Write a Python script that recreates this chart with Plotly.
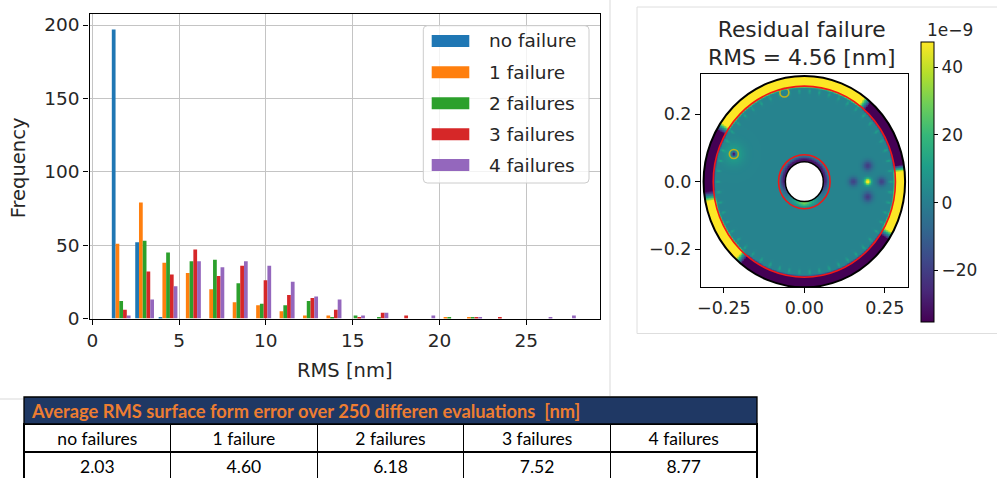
import numpy as np
import plotly.graph_objects as go

# ---------------- histogram data (counts per bin) ----------------
series_names = ["no failure", "1 failure", "2 failures", "3 failures", "4 failures"]
series_colors = ["#1f77b4", "#ff7f0e", "#2ca02c", "#d62728", "#9467bd"]
bin_lo, bin_hi, n_bins = 0.99, 27.99, 20
counts_0 = [197, 52, 1, 0, 0, 0, 0, 0, 0, 0, 0, 0, 0, 0, 0, 0, 0, 0, 0, 0]
counts_1 = [51, 79, 38, 31, 20, 11, 9, 5, 2, 2, 0, 0, 0, 0, 1, 1, 0, 0, 0, 0]
counts_2 = [12, 53, 45, 39, 40, 24, 10, 9, 12, 1, 2, 1, 0, 0, 1, 1, 0, 0, 0, 0]
counts_3 = [6, 32, 30, 47, 29, 36, 26, 16, 14, 6, 1, 4, 2, 0, 0, 1, 1, 0, 0, 0]
counts_4 = [2, 13, 22, 39, 35, 39, 36, 25, 15, 13, 2, 4, 0, 2, 0, 1, 0, 0, 1, 2]
hist_xticks = [0, 5, 10, 15, 20, 25]
hist_yticks = [0, 50, 100, 150, 200]

# ---------------- table data ----------------
table_title = "Average RMS surface form error over 250 differen evaluations  [nm]"
table_headers = ["no failures", "1 failure", "2 failures", "3 failures", "4 failures"]
table_values = [2.03, 4.60, 6.18, 7.52, 8.77]

# ---------------- residual map features ----------------
heat_title = ["Residual failure", "RMS = 4.56 [nm]"]
R_outer = 0.313
R_hole = 0.059
red_radii = [0.283, 0.080]
interior_level = 2.0
rim_angle_deg = [0, 5, 10, 48, 54, 145, 151, 185, 192, 226, 232, 326, 332, 360]
rim_value = [60, 60, -45, -45, 60, 60, -45, -45, 60, 60, -45, -45, 60, 60]
hole_angle_deg = [0, 90, 180, 225, 270, 315, 360]
hole_value = [-28, -32, -28, 0, 30, 0, -28]
spot_x = [0.197, 0.197, 0.197, 0.152, 0.240, -0.219, -0.219]
spot_y = [0.0, 0.047, -0.045, 0.0, 0.0, 0.082, 0.082]
spot_amp = [50, -22, -22, -20, -20, 10, -42]
spot_sigma = [0.007, 0.011, 0.011, 0.010, 0.010, 0.022, 0.005]
edge_dot_count = 54
edge_dot_radius = 0.268
edge_dot_amp = 9
probe_x = [-0.219, -0.062]
probe_y = [0.082, 0.264]
z_min, z_max = -35.2, 47.4
cbar_ticks = [-20, 0, 20, 40]

# ---------------- build histogram bars ----------------
edges = np.linspace(bin_lo, bin_hi, n_bins + 1)
centers = (edges[:-1] + edges[1:]) / 2
all_counts = [counts_0, counts_1, counts_2, counts_3, counts_4]

W, H = 997, 479
def px(x):
    return x / W
def py(y):
    return 1 - y / H

FONT = "DejaVu Sans"
TXT = "#262626"

fig = go.Figure()
for name, col, cnt in zip(series_names, series_colors, all_counts):
    fig.add_trace(go.Bar(x=centers, y=cnt, name=name, marker=dict(color=col, line=dict(width=0)),
                         xaxis="x", yaxis="y", showlegend=False, hoverinfo="skip"))

# ---------------- build residual field ----------------
n = 321
gx = np.linspace(-0.322, 0.322, n)
gy = np.linspace(-0.322, 0.322, n)
X, Y = np.meshgrid(gx, gy)
R = np.hypot(X, Y)
TH = np.degrees(np.arctan2(Y, X)) % 360
Z = np.full_like(X, interior_level)
rim = np.interp(TH, rim_angle_deg, rim_value)
w = np.clip((R - 0.276) / 0.010, 0, 1)
Z = Z * (1 - w) + rim * w
hole = np.interp(TH, hole_angle_deg, hole_value)
wh = np.clip((0.078 - R) / 0.012, 0, 1)
Z = Z * (1 - wh) + hole * wh
dots = edge_dot_amp * np.clip(np.cos(np.radians(TH) * edge_dot_count), 0, 1) ** 3 * \
    np.exp(-((R - edge_dot_radius) ** 2) / (2 * 0.005 ** 2))
Z = Z + dots
for sx, sy, a, s in zip(spot_x, spot_y, spot_amp, spot_sigma):
    Z = Z + a * np.exp(-((X - sx) ** 2 + (Y - sy) ** 2) / (2 * s ** 2))
Z[(R > R_outer) | (R < R_hole)] = np.nan
Z = np.round(Z, 2)

fig.add_trace(go.Heatmap(
    x=gx, y=gy, z=Z, xaxis="x2", yaxis="y2", colorscale="Viridis", zmin=z_min, zmax=z_max,
    hoverinfo="skip",
    colorbar=dict(x=px(921), xanchor="left", y=py(182), yanchor="middle", xpad=0, ypad=0,
                  len=280 / H, lenmode="fraction", thickness=13, thicknessmode="pixels",
                  outlinecolor="black", outlinewidth=1,
                  tickvals=cbar_ticks, ticktext=[str(t).replace("-", "\u2212") for t in cbar_ticks],
                  ticks="outside", ticklen=4, tickcolor="black",
                  tickfont=dict(family=FONT, size=17, color=TXT)),
))
fig.add_trace(go.Scatter(x=probe_x, y=probe_y, mode="markers", xaxis="x2", yaxis="y2",
                         marker=dict(symbol="circle-open", size=9, color="#bfb21c", line=dict(width=1.6)),
                         showlegend=False, hoverinfo="skip"))

# ---------------- table ----------------
fig.add_trace(go.Table(
    domain=dict(x=[px(24), px(757)], y=[0, py(424)]),
    columnwidth=[1] * len(table_headers),
    header=dict(values=table_headers, fill_color="white", line=dict(color="black", width=1.3),
                font=dict(family="Lato", size=17.5, color="black"), align="center", height=28),
    cells=dict(values=[[f"{v:.2f}"] for v in table_values], fill_color="white",
               line=dict(color="black", width=1.3),
               font=dict(family="Lato", size=17.5, color="black"), align="center", height=27),
))

axis_common = dict(showline=True, mirror=True, linecolor="black", ticks="outside", tickcolor="black",
                   zeroline=False, automargin=False, tickfont=dict(family=FONT, size=18.5, color=TXT))

shapes = []
annotations = []
# heatmap circles
shapes.append(dict(type="circle", xref="x2", yref="y2", x0=-R_outer, x1=R_outer, y0=-R_outer, y1=R_outer,
                   line=dict(color="black", width=2)))
shapes.append(dict(type="circle", xref="x2", yref="y2", x0=-R_hole, x1=R_hole, y0=-R_hole, y1=R_hole,
                   line=dict(color="black", width=1.5)))
for r in red_radii:
    shapes.append(dict(type="circle", xref="x2", yref="y2", x0=-r, x1=r, y0=-r, y1=r,
                       line=dict(color="#f01818", width=1.6)))

# manual legend
lx0, lx1, ly0, ly1, rr = 423.3, 589, 25.7, 183, 4
path = (f"M{px(lx0 + rr)},{py(ly0)} L{px(lx1 - rr)},{py(ly0)} Q{px(lx1)},{py(ly0)} {px(lx1)},{py(ly0 + rr)} "
        f"L{px(lx1)},{py(ly1 - rr)} Q{px(lx1)},{py(ly1)} {px(lx1 - rr)},{py(ly1)} "
        f"L{px(lx0 + rr)},{py(ly1)} Q{px(lx0)},{py(ly1)} {px(lx0)},{py(ly1 - rr)} "
        f"L{px(lx0)},{py(ly0 + rr)} Q{px(lx0)},{py(ly0)} {px(lx0 + rr)},{py(ly0)} Z")
shapes.append(dict(type="path", xref="paper", yref="paper", path=path, layer="above",
                   fillcolor="rgba(255,255,255,0.8)", line=dict(color="#cccccc", width=1)))
rows = [41, 72.3, 103.3, 134.3, 165]
for name, col, yc in zip(series_names, series_colors, rows):
    shapes.append(dict(type="rect", xref="paper", yref="paper", layer="above",
                       x0=px(431.7), x1=px(469.3), y0=py(yc - 6), y1=py(yc + 6),
                       fillcolor=col, line=dict(width=0)))
    annotations.append(dict(text=name, x=px(486.7), y=py(yc), xref="paper", yref="paper",
                            xanchor="left", yanchor="middle", showarrow=False,
                            font=dict(family=FONT, size=18.5, color=TXT)))

# axis titles
annotations.append(dict(text="Frequency", x=px(18.3), y=py(168), xref="paper", yref="paper",
                        textangle=-90, showarrow=False, xanchor="center", yanchor="middle",
                        font=dict(family=FONT, size=19.5, color=TXT)))
annotations.append(dict(text="RMS [nm]", x=px(345), y=py(370), xref="paper", yref="paper",
                        showarrow=False, xanchor="center", yanchor="middle",
                        font=dict(family=FONT, size=19.5, color=TXT)))
# heatmap title (two lines)
annotations.append(dict(text="<br>".join(heat_title), x=px(801), y=py(43.4), xref="paper", yref="paper",
                        showarrow=False, xanchor="center", yanchor="middle",
                        font=dict(family=FONT, size=21.8, color=TXT)))
annotations.append(dict(text="1e\u22129", x=px(949.5), y=py(30), xref="paper", yref="paper", showarrow=False,
                        xanchor="center", yanchor="middle", font=dict(family=FONT, size=17, color=TXT)))

# table title bar
shapes.append(dict(type="rect", xref="paper", yref="paper", x0=px(24), x1=px(757), y0=py(397), y1=py(424),
                   fillcolor="#1f3864", line=dict(color="black", width=1.3)))
annotations.append(dict(text="<b>" + table_title.replace("  ", "&nbsp; ") + "</b>", x=px(29), y=py(411),
                        xref="paper", yref="paper", showarrow=False, xanchor="left", yanchor="middle",
                        font=dict(family="Lato", size=18.3, color="#ed7d31")))

# slide decorations
shapes.append(dict(type="line", xref="paper", yref="paper", x0=px(610), x1=px(610), y0=py(0), y1=py(396),
                   line=dict(color="#d9d9d9", width=1)))
shapes.append(dict(type="line", xref="paper", yref="paper", x0=0, x1=px(23), y0=py(399), y1=py(399),
                   line=dict(color="#d9d9d9", width=1)))
shapes.append(dict(type="rect", xref="paper", yref="paper", x0=px(637), x1=px(1000), y0=py(7), y1=py(333.5),
                   line=dict(color="#dedede", width=1)))

fig.update_layout(
    width=W, height=H, margin=dict(l=0, r=0, t=0, b=0, pad=0, autoexpand=False),
    paper_bgcolor="white", plot_bgcolor="white",
    barmode="group", bargap=0.2, bargroupgap=0,
    showlegend=False,
    xaxis=dict(domain=[px(89.5), px(599.5)], range=[-0.16, 29.22], tickvals=hist_xticks,
               showgrid=True, gridcolor="#c4c4c4", gridwidth=1.2, linewidth=1.3, tickwidth=1.3, ticklen=5,
               anchor="y", **axis_common),
    yaxis=dict(domain=[py(318.5), py(14)], range=[0, 207.5], tickvals=hist_yticks,
               showgrid=True, gridcolor="#c4c4c4", gridwidth=1.2, linewidth=1.3, tickwidth=1.3, ticklen=5,
               anchor="x", **axis_common),
    xaxis2=dict(domain=[px(701), px(908)], range=[-0.321, 0.322], tickvals=[-0.25, 0, 0.25],
                ticktext=["\u22120.25", "0.00", "0.25"], showgrid=False, linewidth=1, ticklen=5,
                anchor="y2", **{**axis_common, "tickfont": dict(family=FONT, size=17.5, color=TXT)}),
    yaxis2=dict(domain=[py(287), py(74)], range=[-0.312, 0.319], tickvals=[-0.2, 0, 0.2],
                ticktext=["\u22120.2", "0.0", "0.2"], showgrid=False, linewidth=1, ticklen=5,
                anchor="x2", **{**axis_common, "tickfont": dict(family=FONT, size=17.5, color=TXT)}),
    shapes=shapes, annotations=annotations,
)

fig.write_html("out.html", config={"displayModeBar": False},
               post_script="document.body.style.margin='0px';document.body.style.overflow='hidden';")
